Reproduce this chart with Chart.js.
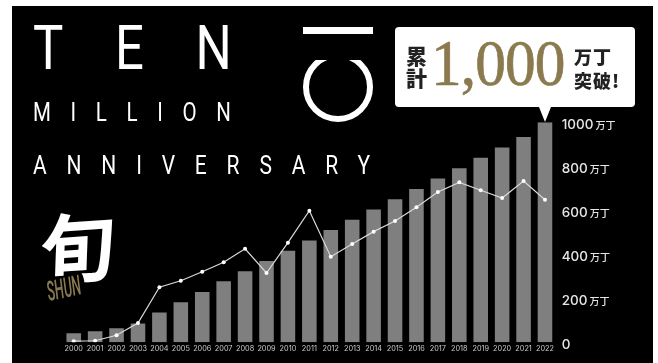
<!DOCTYPE html>
<html lang="ja">
<head>
<meta charset="utf-8">
<title>TEN MILLION ANNIVERSARY</title>
<script src="https://cdn.jsdelivr.net/npm/chart.js@4/dist/chart.umd.min.js"></script>
<style>
  html, body { margin: 0; padding: 0; background: #fff; overflow: hidden; }
  #panel { position: absolute; left: 12px; top: 6px; width: 641px; height: 357px; background: #000; }
  #wrap { position: absolute; left: 0; top: 0; width: 658px; height: 363px; }
  .txt { position: absolute; white-space: nowrap; color: #fff; line-height: 1; }
  .din { font-family: "Roboto", sans-serif; font-weight: 400; transform-origin: 0 0; }
  #ten { left: 33px; top: 17px; font-size: 62px; letter-spacing: 63px; transform: scaleX(0.82); }
  #million { left: 33px; top: 100px; font-size: 25px; letter-spacing: 24px; transform: scaleX(0.82); }
  #anniversary { left: 33px; top: 153px; font-size: 25px; letter-spacing: 23.6px; transform: scaleX(0.84); }
  #kanji { left: 40px; top: 206px; font-family: "Noto Sans CJK JP"; font-weight: 700; font-size: 75px; transform: rotate(-4deg) skewX(-6deg); }
  #shun { left: 47px; top: 280px; font-family: "Roboto", sans-serif; font-style: italic; font-weight: 500; font-size: 24px; color: #8a7a4e; transform: rotate(-12deg) scale(0.55, 1.15); transform-origin: 0 50%; }
  #badge { position: absolute; left: 395px; top: 27px; width: 240px; height: 80px; background: #fff; border-radius: 4px; }
  #pointer { position: absolute; left: 539px; top: 107px; width: 0; height: 0; border-left: 6px solid transparent; border-right: 6px solid transparent; border-top: 15px solid #fff; }
  .cap { color: #222; font-family: "Noto Sans CJK JP"; font-weight: 900; }
  #ruikei { left: 406px; top: 44px; font-size: 21px; line-height: 22px; white-space: normal; width: 22px; }
  #num { left: 431px; top: 30px; font-family: "Liberation Serif", serif; font-size: 66px; color: #8a7a4e; -webkit-text-stroke: 0.7px #8a7a4e; letter-spacing: -1px; transform: scaleX(0.93); transform-origin: 0 0; }
  #toppa { left: 574px; top: 44px; font-size: 18px; line-height: 24px; letter-spacing: 1px; }
</style>
</head>
<body>
<div id="panel"></div>
<div id="wrap"><canvas id="myChart" width="658" height="363"></canvas></div>

<div class="txt din" id="ten">TEN</div>
<svg style="position:absolute;left:0;top:0" width="658" height="363">
  <defs><clipPath id="corte"><rect x="290" y="60" width="100" height="70"></rect></clipPath></defs>
  <rect x="303" y="27" width="70" height="7" fill="#fff"></rect>
  <circle cx="338" cy="87" r="32" fill="none" stroke="#fff" stroke-width="6" clip-path="url(#corte)"></circle>
</svg>
<div class="txt din" id="million">MILLION</div>
<div class="txt din" id="anniversary">ANNIVERSARY</div>
<div class="txt" id="kanji">旬</div>
<div class="txt" id="shun">SHUN</div>

<div id="badge"></div>
<div id="pointer"></div>
<div class="txt cap" id="ruikei">累計</div>
<div class="txt" id="num">1,000</div>
<div class="txt cap" id="toppa">万丁<br>突破!</div>

<script>
// ---- DATOS ----
const years = ['2000','2001','2002','2003','2004','2005','2006','2007','2008','2009','2010','2011',
  '2012','2013','2014','2015','2016','2017','2018','2019','2020','2021','2022']
const cumulative = [41,50,64,86,135,182,229,277,323,369,416,463,510,557,604,650,697,745,791,839,885,933,1000]
const yearly = [5,7,32,88,250,280,321,364,425,315,453,598,389,447,503,551,614,683,727,691,656,733,648]
const yTicks = [0,200,400,600,800,1000]
const unit = '万丁'

// ---- 万丁 va mas chico que el numero, se dibuja al lado de cada tick ----
const unitSuffix = {
  id: 'unitSuffix',
  afterDraw(chart) {
    const ctx = chart.ctx
    const scale = chart.scales.y
    ctx.save()
    ctx.font = '500 13.5px Inter'
    const widths = yTicks.map(t => ctx.measureText(String(t)).width)
    ctx.font = '500 10px "Noto Sans CJK JP"'
    ctx.fillStyle = '#e6e6e6'
    ctx.textBaseline = 'middle'
    yTicks.forEach((t, i) => {
      if (t === 0) return
      ctx.fillText(unit, scale.left + 6 + widths[i] + 2, scale.getPixelForValue(t) + 3)
    })
    ctx.restore()
  }
}

// ---- GRAFICO ----
new Chart(document.querySelector('#myChart'), {
  data: {
    labels: years,
    datasets: [
      {
        type: 'line',
        data: yearly,
        borderColor: '#d9d9d9',
        borderWidth: 1.2,
        tension: 0,
        pointRadius: 2,
        pointBackgroundColor: '#fff',
        pointBorderWidth: 0,
        order: 1
      },
      {
        type: 'bar',
        data: cumulative,
        backgroundColor: '#7f7f7f',
        barPercentage: 0.68,
        categoryPercentage: 1,
        order: 2
      }
    ]
  },
  options: {
    responsive: false,
    animation: false,
    layout: { padding: { left: 63, top: 122.3 } },
    plugins: { legend: { display: false }, tooltip: { enabled: false } },
    scales: {
      x: {
        grid: { display: false, drawTicks: false },
        border: { display: false },
        afterFit: s => { s.height = 20.7 },
        ticks: {
          color: '#cccccc',
          font: { family: 'Inter', size: 7.3 },
          padding: 2,
          autoSkip: false,
          maxRotation: 0
        }
      },
      y: {
        position: 'right',
        min: 0,
        max: 1000,
        grid: { display: false, drawTicks: false },
        border: { display: false },
        afterBuildTicks: s => { s.ticks = yTicks.map(v => ({ value: v })) },
        afterFit: s => { s.width = 102.3 },
        ticks: {
          color: '#e6e6e6',
          font: { family: 'Inter', size: 13.5, weight: '500' },
          padding: 6,
          labelOffset: 2.5,
          crossAlign: 'near',
          callback: v => String(v)
        }
      }
    }
  },
  plugins: [unitSuffix]
})
</script>
</body>
</html>
